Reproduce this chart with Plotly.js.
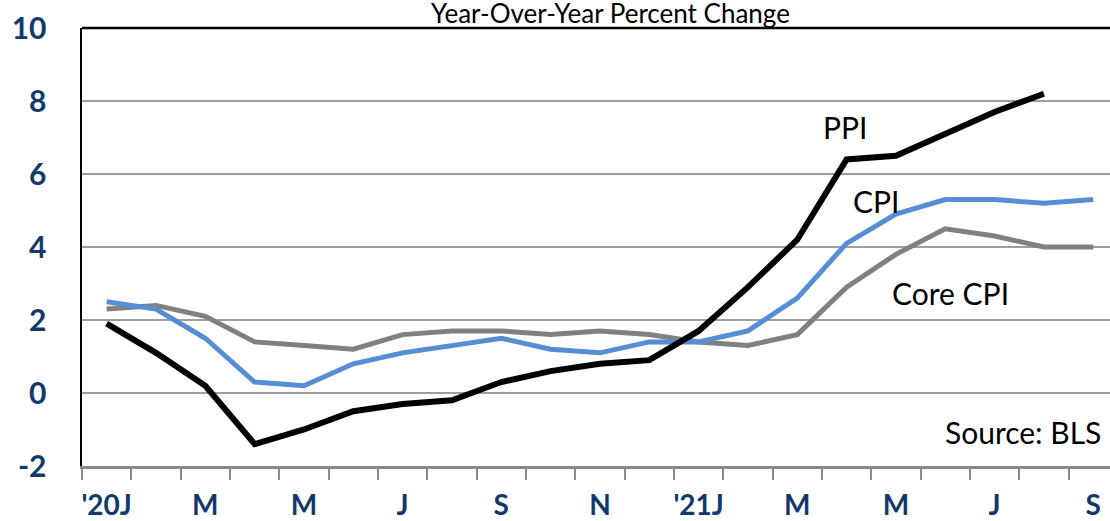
<!DOCTYPE html>
<html>
<head>
<meta charset="utf-8">
<script src="https://cdn.plot.ly/plotly-3.0.1.min.js"></script>
<style>
  html, body { margin: 0; padding: 0; background: #ffffff; }
  #chart { width: 1110px; height: 521px; }
</style>
</head>
<body>
<div id="chart"></div>
<script>
// Months from Jan 2020 to Sep 2021
const months = [
  "Jan 2020", "Feb 2020", "Mar 2020", "Apr 2020", "May 2020", "Jun 2020",
  "Jul 2020", "Aug 2020", "Sep 2020", "Oct 2020", "Nov 2020", "Dec 2020",
  "Jan 2021", "Feb 2021", "Mar 2021", "Apr 2021", "May 2021", "Jun 2021",
  "Jul 2021", "Aug 2021", "Sep 2021"
];
const tickLabels = [
  "'20J", "", "M", "", "M", "", "J", "", "S", "", "N", "",
  "'21J", "", "M", "", "M", "", "J", "", "S"
];
const yTickVals = [-2, 0, 2, 4, 6, 8, 10];
const yTickLabels = ["-2", "0", "2", "4", "6", "8", "10"];

// Year-over-year percent change
const ppi = [1.9, 1.1, 0.2, -1.4, -1.0, -0.5, -0.3, -0.2, 0.3, 0.6, 0.8, 0.9,
             1.7, 2.9, 4.2, 6.4, 6.5, 7.1, 7.7, 8.2];
const cpi = [2.5, 2.3, 1.5, 0.3, 0.2, 0.8, 1.1, 1.3, 1.5, 1.2, 1.1, 1.4,
             1.4, 1.7, 2.6, 4.1, 4.9, 5.3, 5.3, 5.2, 5.3];
const coreCpi = [2.3, 2.4, 2.1, 1.4, 1.3, 1.2, 1.6, 1.7, 1.7, 1.6, 1.7, 1.6,
                 1.4, 1.3, 1.6, 2.9, 3.8, 4.5, 4.3, 4.0, 4.0];

const titleText = "Year-Over-Year Percent Change";
const seriesLabels = ["PPI", "CPI", "Core CPI"];
const sourceText = "Source: BLS";

const navy = "#12396B";
const gridGray = "#9E9E9E";
const axisGray = "#8A8A8A";
const xRange = [-0.5, 20.34];
const labelFont = { family: "Lato, sans-serif", size: 30, color: "#000000" };

const traces = [
  { x: months.slice(0, coreCpi.length), y: coreCpi, type: "scatter", mode: "lines",
    name: seriesLabels[2], line: { color: "#808080", width: 5 }, hoverinfo: "skip" },
  { x: months.slice(0, cpi.length), y: cpi, type: "scatter", mode: "lines",
    name: seriesLabels[1], line: { color: "#558ED5", width: 5 }, hoverinfo: "skip" },
  { x: months.slice(0, ppi.length), y: ppi, type: "scatter", mode: "lines",
    name: seriesLabels[0], line: { color: "#000000", width: 6 }, hoverinfo: "skip" }
];

const layout = {
  width: 1110,
  height: 521,
  margin: { l: 82, r: 0, t: 28, b: 55, pad: 0 },
  paper_bgcolor: "#ffffff",
  plot_bgcolor: "#ffffff",
  showlegend: false,
  font: { family: "Lato, 'Open Sans', sans-serif", color: "#000000" },
  title: {
    text: titleText,
    font: { family: "Lato, sans-serif", size: 26, color: "#000000" },
    x: 0.55, xanchor: "center", xref: "container",
    y: 0.973, yanchor: "middle", yref: "container"
  },
  xaxis: {
    type: "category",
    categoryorder: "array",
    categoryarray: months,
    range: xRange,
    tickmode: "array",
    tickvals: months,
    ticktext: tickLabels,
    tickangle: 0,
    tickson: "boundaries",
    ticks: "outside",
    ticklen: 11,
    tickwidth: 2,
    tickcolor: axisGray,
    showline: true,
    linecolor: axisGray,
    linewidth: 2.5,
    showgrid: false,
    zeroline: false,
    ticklabelstandoff: 13,
    tickfont: { family: "Lato, sans-serif", size: 28, color: navy, weight: "bold" },
    fixedrange: true
  },
  xaxis2: {
    type: "linear",
    overlaying: "x",
    anchor: "y",
    side: "bottom",
    range: xRange,
    tickmode: "linear",
    tick0: -0.5,
    dtick: 1,
    ticks: "inside",
    ticklen: 11,
    tickwidth: 2,
    tickcolor: axisGray,
    showticklabels: false,
    showline: false,
    showgrid: false,
    zeroline: false,
    fixedrange: true
  },
  yaxis: {
    range: [-2, 10],
    tickmode: "array",
    tickvals: yTickVals,
    ticktext: yTickLabels,
    ticks: "",
    showline: true,
    linecolor: "#000000",
    linewidth: 2.5,
    showgrid: true,
    gridcolor: gridGray,
    gridwidth: 1.5,
    zeroline: false,
    ticklabelstandoff: 27,
    tickfont: { family: "Lato, sans-serif", size: 30, color: navy, weight: "bold" },
    fixedrange: true
  },
  shapes: [
    { type: "line", xref: "paper", yref: "paper", x0: 0, x1: 1, y0: 1, y1: 1,
      line: { color: "#000000", width: 2.5 } }
  ],
  annotations: [
    { text: seriesLabels[0], xref: "paper", yref: "paper", x: 0.742, y: 0.774,
      xanchor: "center", yanchor: "middle", showarrow: false, font: labelFont },
    { text: seriesLabels[1], xref: "paper", yref: "paper", x: 0.772, y: 0.605,
      xanchor: "center", yanchor: "middle", showarrow: false, font: labelFont },
    { text: seriesLabels[2], xref: "paper", yref: "paper", x: 0.845, y: 0.395,
      xanchor: "center", yanchor: "middle", showarrow: false, font: labelFont },
    { text: sourceText, xref: "paper", yref: "paper", x: 0.993, y: 0.078,
      xanchor: "right", yanchor: "middle", showarrow: false, font: labelFont }
  ]
};

Plotly.newPlot("chart", traces, layout, { displayModeBar: false, staticPlot: true });
</script>
</body>
</html>
